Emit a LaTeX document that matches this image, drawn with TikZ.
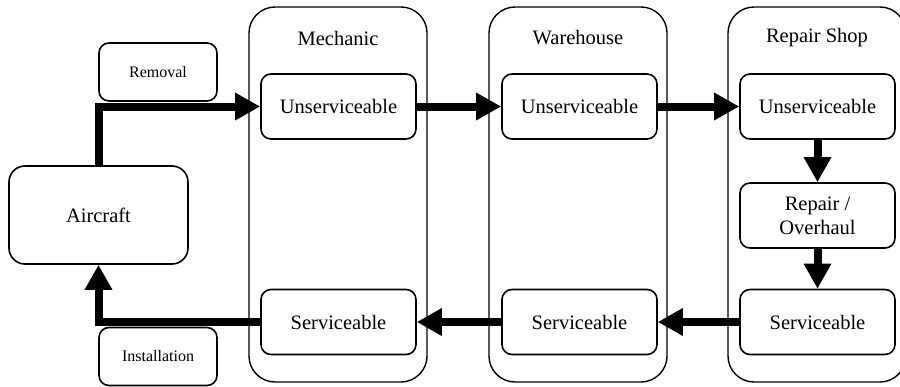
\documentclass[tikz,border=0pt]{standalone}
\usepackage{fontspec}
\setmainfont{Liberation Serif}
\usetikzlibrary{arrows.meta}
\begin{document}
\begin{tikzpicture}[x=1pt,y=-1pt,
  lane/.style={draw,line width=1.4pt,rounded corners=26pt,minimum width=178pt,minimum height=375pt,inner sep=0pt},
  lanetitle/.style={font=\fontsize{20.5}{24}\selectfont},
  state/.style={draw,line width=1.6pt,rounded corners=10pt,fill=white,minimum width=155pt,minimum height=65pt,align=center,inner sep=0pt,font=\fontsize{20.5}{24}\selectfont},
  plane/.style={draw,line width=1.6pt,rounded corners=16pt,fill=white,minimum width=179pt,minimum height=98pt,inner sep=0pt,font=\fontsize{20.5}{24}\selectfont},
  tag/.style={draw,line width=1.6pt,rounded corners=10pt,fill=white,minimum width=118pt,minimum height=58pt,inner sep=0pt,font=\fontsize{16}{19}\selectfont},
  flow/.style={line width=8pt,line join=miter,-{Triangle[length=25pt,width=26pt]}}
]
\useasboundingbox (0,0) rectangle (900,386);
\clip (0,0) rectangle (900,386);

% swim lanes
\node[lane] (mech) at (338,194.5) {};
\node[lane] (ware) at (578,194.5) {};
\node[lane] (shop) at (817,194.5) {};
\node[lanetitle] (mecht) at (338,38) {Mechanic};
\node[lanetitle] (waret) at (578,38) {Warehouse};
\node[lanetitle] (shopt) at (817,38) {Repair Shop};

% states
\node[state] (mu) at (338.5,106.5) {Unserviceable};
\node[state] (wu) at (579.5,106.5) {Unserviceable};
\node[state] (su) at (817.5,106.5) {Unserviceable};
\node[state] (ro) at (817.5,215.5) {Repair /\\Overhaul};
\node[state] (ss) at (817.5,322) {Serviceable};
\node[state] (ws) at (579.5,322) {Serviceable};
\node[state] (ms) at (338.5,322) {Serviceable};

% aircraft and transfer labels
\node[plane] (air) at (98.5,215) {Aircraft};
\node[tag] (rem) at (158,72) {Removal};
\node[tag] (inst) at (158,356.5) {Installation};

% material flow
\draw[flow] (air.north) |- (mu.west);
\draw[flow] (mu.east) -- (wu.west);
\draw[flow] (wu.east) -- (su.west);
\draw[flow] (su.south) -- (ro.north);
\draw[flow] (ro.south) -- (ss.north);
\draw[flow] (ss.west) -- (ws.east);
\draw[flow] (ws.west) -- (ms.east);
\draw[flow] (ms.west) -| (air.south);
\end{tikzpicture}
\end{document}
